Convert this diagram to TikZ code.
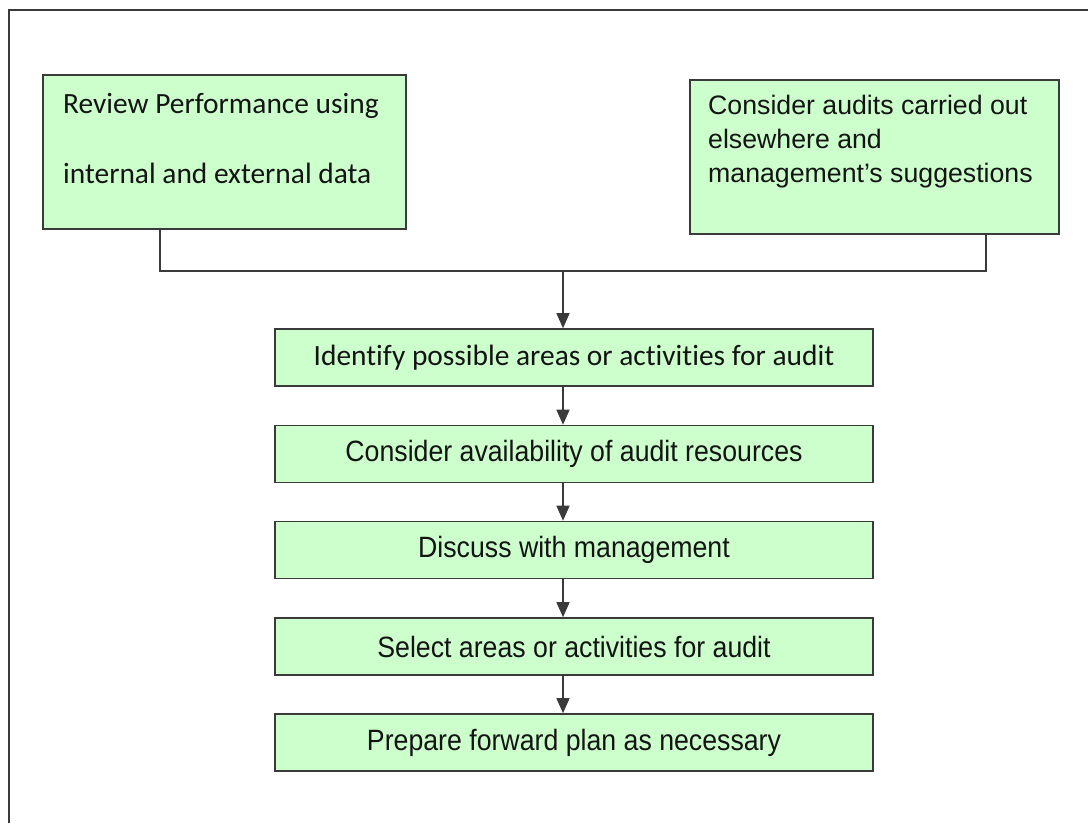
\documentclass[tikz,border=0pt]{standalone}
\usepackage{graphicx}
\usepackage{fontspec}
\setmainfont{Liberation Sans}
\newfontfamily\calibri[Ligatures=NoCommon]{Carlito}
\usetikzlibrary{arrows.meta}
\definecolor{boxfill}{HTML}{CCFFCC}
\definecolor{boxline}{HTML}{3A3A3A}
\definecolor{ink}{HTML}{141414}
% slightly tall lettering used in the process steps
\newcommand\steptext[1]{\scalebox{1}[1.1]{#1}}
\begin{document}
\begin{tikzpicture}[x=1pt,y=-1pt,
  panel/.style={draw=boxline, line width=1.6pt, fill=boxfill, inner sep=0pt},
  stepbox/.style={panel, minimum width=598pt, minimum height=57pt, text=ink,
    font=\fontsize{26.7}{30}\selectfont},
  topbox/.style={panel, anchor=north west},
  arialtxt/.style={inner sep=0pt, anchor=base west, text=ink, font=\fontsize{26.7}{30}\selectfont},
  calibritxt/.style={inner sep=0pt, anchor=base west, text=ink, font=\calibri\fontsize{29.4}{33}\selectfont},
  link/.style={draw=boxline, line width=1.3pt},
  flow/.style={link, -{Triangle[width=13pt,length=15pt]}},
]
\useasboundingbox (0,0) rectangle (1088,823);
\fill[white] (0,0) rectangle (1088,823);
% outer frame (top and left edges)
\draw[boxline, line width=1.5pt] (9,823) -- (9,10) -- (1088,10);

% top input boxes
\node[topbox, minimum width=363pt, minimum height=154pt] (rev) at (42,74) {};
\node[calibritxt] (revA) at (63,113) {Review Performance using};
\node[calibritxt] (revB) at (63,183) {internal and external data};

\node[topbox, minimum width=369pt, minimum height=154pt] (cons) at (689,79) {};
\node[arialtxt] (consA) at (708,114) {Consider audits carried out};
\node[arialtxt] (consB) at (708,148) {elsewhere and};
\node[arialtxt] (consC) at (708,182) {management’s suggestions};

% process steps
\node[stepbox, font=\calibri\fontsize{29.4}{33}\selectfont] (ident) at (574,357.5) {Identify possible areas or activities for audit};
\node[stepbox] (avail) at (574,454) {\steptext{Consider availability of audit resources}};
\node[stepbox] (disc) at (574,550) {\steptext{Discuss with management}};
\node[stepbox] (sel) at (574,646.5) {\steptext{Select areas or activities for audit}};
\node[stepbox] (prep) at (574,742.5) {\steptext{Prepare forward plan as necessary}};

% connectors
\coordinate (jl) at (160,271);
\coordinate (jr) at (986,271);
\coordinate (jm) at (563,271);
\draw[link] (rev.south -| jl) -- (jl) -- (jr) -- (cons.south -| jr);
\draw[flow] (jm) -- (ident.north -| jm);
\draw[flow] (ident.south -| jm) -- (avail.north -| jm);
\draw[flow] (avail.south -| jm) -- (disc.north -| jm);
\draw[flow] (disc.south -| jm) -- (sel.north -| jm);
\draw[flow] (sel.south -| jm) -- (prep.north -| jm);
\end{tikzpicture}
\end{document}
